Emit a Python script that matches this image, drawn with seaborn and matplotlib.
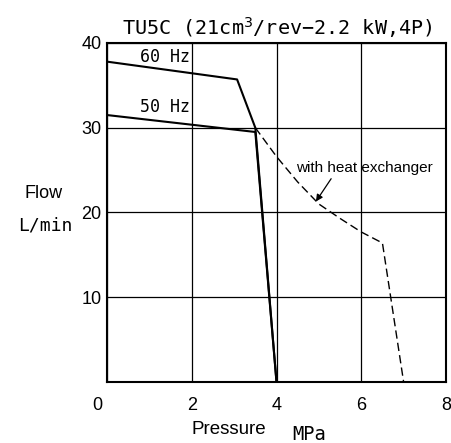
import matplotlib
matplotlib.use("Agg")
import matplotlib.pyplot as plt
import matplotlib.transforms as mtransforms
import seaborn as sns
import pandas as pd

# Data
p60 = [0.0, 3.07, 3.5, 4.0]
q60 = [37.8, 35.7, 30.0, 0.0]
p50 = [0.0, 3.5, 4.0]
q50 = [31.5, 29.5, 0.0]
phx = [3.5, 4.0, 4.5, 5.0, 5.5, 6.0, 6.5, 7.0]
qhx = [30.0, 26.6, 23.6, 21.0, 19.3, 17.7, 16.4, 0.0]
xticks = [0, 2, 4, 6, 8]
yticks = [10, 20, 30, 40]

df = pd.concat([
    pd.DataFrame({"p": p60, "q": q60, "s": "60 Hz"}),
    pd.DataFrame({"p": p50, "q": q50, "s": "50 Hz"}),
    pd.DataFrame({"p": phx, "q": qhx, "s": "hx"}),
])

sns.set_style("white")
plt.rcParams["font.family"] = ["Liberation Sans", "DejaVu Sans"]
plt.rcParams["text.color"] = "black"
plt.rcParams["xtick.color"] = "black"
plt.rcParams["ytick.color"] = "black"

fig = plt.figure(figsize=(4.51, 4.43), dpi=100)
ax = fig.add_axes([107/451, (443-382)/443, 339/451, 339/443])

sns.lineplot(data=df, x="p", y="q", hue="s", style="s", sort=False, estimator=None,
             palette={"60 Hz": "black", "50 Hz": "black", "hx": "black"},
             dashes={"60 Hz": "", "50 Hz": "", "hx": (6, 3)},
             size="s", sizes={"60 Hz": 1.5, "50 Hz": 1.5, "hx": 1.0},
             legend=False, ax=ax)

ax.set_xlim(0, 8)
ax.set_ylim(0, 40)
ax.set_xticks(xticks)
ax.set_yticks(yticks)
ax.set_xticklabels([str(v) for v in xticks])
ax.set_yticklabels([str(v) for v in yticks])
ax.tick_params(length=0, labelsize=13)
ax.tick_params(axis="x", pad=11)
ax.tick_params(axis="y", pad=4)
ax.grid(True, color="black", linewidth=0.9)
for sp in ax.spines.values():
    sp.set_color("black")
    sp.set_linewidth(1.5)
ax.set_xlabel("")
ax.set_ylabel("")

# shift "0" tick label left
lbl0 = ax.get_xticklabels()[0]
lbl0.set_transform(lbl0.get_transform() + mtransforms.ScaledTranslation(-10/100, 0, fig.dpi_scale_trans))

mono = ["DejaVu Sans Mono"]
ax.text(1.95, 38.3, "60 Hz", ha="right", va="center", fontsize=12, family=mono)
ax.text(1.95, 32.4, "50 Hz", ha="right", va="center", fontsize=12, family=mono)

ax.annotate("with heat exchanger", xy=(4.93, 21.3), xytext=(4.47, 25.2),
            fontsize=11, ha="left", va="center",
            arrowprops=dict(arrowstyle="-|>", color="black", lw=0.9,
                            shrinkA=0, shrinkB=0, mutation_scale=10,
                            relpos=(0.27, 0)))

fig.text(277/451, 1 - 28/443, "TU5C (21cm$^3$/rev\u22122.2 kW,4P)", ha="center", va="center",
         fontsize=14.5, family=mono)
fig.text(44/451, 1 - 194/443, "Flow", ha="center", va="center", fontsize=13)
fig.text(45/451, 1 - 226/443, "L/min", ha="center", va="center", fontsize=13, family=mono)
fig.text(229/451, 1 - 430/443, "Pressure", ha="center", va="center", fontsize=13.5)
fig.text(309/451, 1 - 434/443, "MPa", ha="center", va="center", fontsize=13.5, family=mono)

fig.savefig("out.png", dpi=100)
